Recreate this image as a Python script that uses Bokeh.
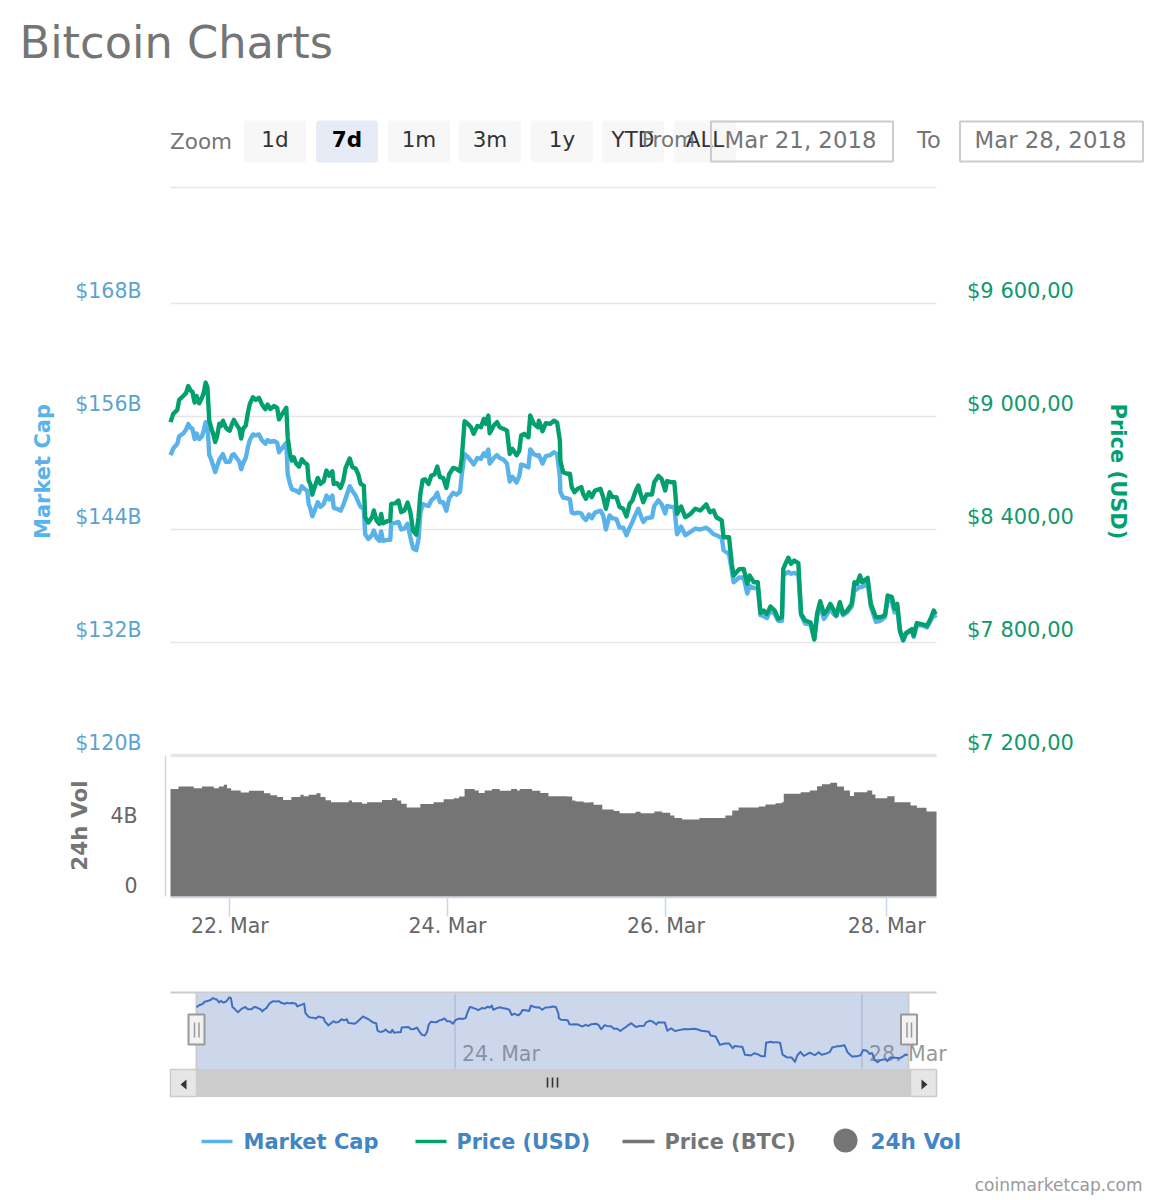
from datetime import datetime, timezone
from math import pi
from bokeh.core.properties import value
from bokeh.plotting import figure
from bokeh.models import Range1d, LinearAxis, FixedTicker
from bokeh.embed import file_html
from bokeh.resources import INLINE

# ---------- data ----------
hours = [0.0,0.6,1.5,1.9,2.8,3.4,3.9,4.4,4.8,5.3,5.7,6.3,6.9,7.3,7.7,8.1,8.5,8.9,9.4,9.8,10.2,10.7,11.1,11.5,12.1,12.6,13.0,13.5,13.9,14.5,15.1,15.5,15.9,16.5,17.0,17.4,18.1,18.7,19.4,20.0,20.8,21.3,21.9,22.7,23.4,23.8,24.4,25.4,25.7,26.2,26.6,27.0,27.6,28.2,28.8,29.4,30.0,30.3,30.7,31.1,31.6,32.3,32.9,33.6,34.2,34.8,35.5,35.8,36.5,37.3,37.9,38.4,39.3,39.9,40.6,41.2,41.7,42.4,42.7,43.4,44.2,44.6,45.2,45.8,46.2,46.6,47.5,48.2,48.4,49.3,50.0,50.6,51.3,52.0,52.6,53.2,53.9,54.4,54.8,55.3,55.8,56.6,57.2,57.9,58.5,59.1,59.8,60.5,61.1,62.0,62.7,63.5,63.9,64.5,65.2,65.9,66.5,67.3,68.1,68.7,69.2,69.7,70.0,70.9,71.6,72.2,73.1,73.8,74.4,75.0,75.9,76.5,76.9,77.6,78.5,78.9,79.7,80.6,80.8,81.6,82.3,83.3,84.1,84.8,85.4,
         85.5,86.1,87.0,87.6,88.0,88.6,89.3,90.1,90.5,91.1,91.8,92.4,93.1,94.3,94.9,95.5,96.3,96.9,97.8,98.5,99.3,100.0,100.7,101.3,101.9,102.6,103.2,103.7,104.4,105.6,106.1,107.0,107.7,108.5,108.9,109.8,110.5,111.1,112.0,112.9,113.9,115.1,116.2,117.5,118.3,119.1,119.7,120.9,121.3,122.5,123.1,123.5,124.7,125.7,126.5,127.0,127.9,128.8,129.4,130.1,130.8,131.6,132.5,133.3,134.1,134.4,134.8,135.5,136.1,136.8,137.7,138.3,139.2,140.4,141.2,141.8,142.5,143.3,144.0,144.7,145.5,146.0,146.8,147.5,148.4,149.4,150.0,150.6,151.2,151.7,152.9,153.6,154.7,155.7,156.7,157.3,158.2,158.8,159.4,160.0,160.7,161.3,162.6,163.0,163.7,164.9,165.9,166.7,167.4,167.8]
price_usd = [8970,9014,9035,9088,9109,9124,9162,9138,9131,9074,9109,9070,9099,9127,9180,9155,8978,8943,8904,8865,8893,8961,8950,8978,8943,8929,8925,8961,8982,8957,8934,8883,8934,8952,9023,9067,9102,9088,9099,9067,9039,9063,9040,9056,9046,8985,9010,9046,8890,8801,8766,8784,8748,8734,8773,8755,8745,8660,8639,8585,8624,8674,8642,8656,8713,8686,8709,8642,8646,8621,8660,8727,8777,8731,8724,8692,8642,8633,8465,8437,8465,8501,8447,8430,8483,8433,8444,8447,8536,8539,8554,8492,8501,8543,8492,8394,8373,8465,8589,8663,8667,8642,8686,8692,8734,8678,8674,8621,8692,8727,8722,8709,8784,8975,8961,8943,8908,8950,8943,8987,8961,9005,8911,8952,8970,8943,8934,8925,8801,8828,8794,8819,8899,8908,8890,9005,8961,8943,8978,8922,8964,8961,8978,8968,8872,
             8766,8704,8696,8696,8625,8598,8616,8625,8589,8563,8598,8572,8607,8616,8572,8510,8598,8572,8572,8519,8510,8469,8536,8554,8598,8634,8581,8545,8586,8586,8651,8685,8669,8607,8657,8651,8651,8483,8522,8465,8480,8510,8501,8533,8492,8501,8465,8448,8359,8359,8218,8156,8189,8191,8112,8156,8120,8120,7956,7970,7952,7991,7970,7926,7934,8191,8214,8250,8218,8235,8221,7952,7917,7906,7818,7952,8019,7952,7970,8005,7970,7943,8014,7952,7970,8005,8120,8112,8156,8120,8143,8005,7934,7934,7945,8050,8041,7979,8005,7864,7814,7850,7871,7837,7903,7896,7888,7926,7970,7949]
market_cap_b = [151.9,152.6,153.1,153.9,154.2,154.6,155.2,154.8,154.7,153.6,154.2,153.6,153.9,154.5,155.4,155.2,151.9,151.5,150.7,150.1,150.7,151.4,151.7,152.0,151.2,151.2,151.2,151.9,152.0,151.6,151.2,150.4,151.0,151.6,152.8,153.5,154.1,154.0,154.1,153.5,153.1,153.5,153.3,153.4,153.2,152.2,152.6,153.2,149.9,148.9,148.3,148.2,148.1,147.9,148.6,148.3,148.1,146.7,146.2,145.4,146.0,146.9,146.4,146.7,147.6,147.2,147.6,146.3,146.2,146.0,146.6,147.3,148.6,148.1,147.6,146.9,146.4,146.2,143.5,143.0,143.4,143.9,143.1,142.8,143.8,142.8,142.9,142.9,144.6,144.7,144.8,144.0,144.1,144.6,143.2,142.0,141.8,143.0,145.7,146.7,146.6,146.5,147.1,147.4,147.9,146.9,146.9,146.0,147.3,147.9,147.7,148.0,149.9,152.0,151.7,151.3,150.9,151.6,151.5,152.1,151.8,152.5,151.0,151.6,151.9,151.6,151.4,151.0,149.1,149.6,149.0,149.7,150.9,150.8,150.6,152.5,152.0,151.8,151.9,151.0,151.8,151.9,152.2,152.0,149.6,
                148.0,147.4,147.3,147.2,145.8,145.7,145.8,145.7,145.3,145.0,145.6,145.2,145.8,146.0,145.5,144.0,145.5,145.2,145.1,144.2,144.2,143.4,144.2,144.8,145.5,146.2,145.4,144.8,145.2,145.3,146.5,147.1,146.7,145.7,146.5,146.4,146.4,143.5,144.3,143.4,143.7,144.1,144.0,144.2,143.9,143.5,143.4,143.1,141.8,141.4,139.6,138.4,138.9,138.9,137.2,138.0,137.8,137.7,134.9,134.8,134.6,135.4,135.0,134.3,134.3,139.3,139.3,139.5,139.3,139.4,139.2,134.9,134.0,133.9,132.3,134.7,135.9,134.5,135.0,135.6,135.0,134.8,135.8,134.9,135.2,135.8,137.5,137.7,137.9,137.9,138.3,135.8,134.2,134.3,134.7,136.6,136.3,135.2,135.5,133.1,132.2,132.9,133.3,132.6,133.9,133.8,133.6,134.3,135.0,134.6]
vol_hours = [0.0,1.75,5.1,6.9,9.5,10.6,11.7,12.4,13.3,15.4,17.2,20.5,21.9,23.4,24.7,26.5,28.5,29.2,30.3,32.0,32.9,34.0,35.2,39.1,39.8,42.0,43.1,46.4,48.6,49.7,50.6,51.8,54.8,57.7,59.9,62.1,63.3,64.5,66.7,67.6,68.9,70.5,72.2,74.7,76.0,76.6,79.3,81.1,82.9,87.0,88.1,88.8,90.6,92.0,92.8,94.7,97.2,98.5,102.0,103.1,106.1,107.8,109.6,110.5,112.2,116.0,121.7,123.2,124.6,129.0,130.5,132.7,134.1,134.5,138.2,140.2,141.8,142.9,144.7,146.2,147.7,149.0,149.9,152.8,153.9,154.6,157.2,158.8,160.8,162.3,163.7,165.8,168.0]
vol_b = [6.15,6.29,6.19,6.29,6.19,6.29,6.38,6.19,6.06,5.94,6.04,5.90,5.79,5.68,5.52,5.68,5.81,5.73,5.81,5.90,5.68,5.50,5.39,5.49,5.39,5.30,5.39,5.52,5.62,5.49,5.30,5.09,5.28,5.39,5.56,5.62,5.71,6.15,6.06,5.92,6.06,6.15,6.04,6.15,6.06,6.15,6.04,5.92,5.73,5.71,5.49,5.43,5.37,5.39,5.24,4.97,4.89,4.76,4.84,4.76,4.86,4.78,4.63,4.49,4.40,4.49,4.63,4.91,5.09,5.14,5.26,5.33,5.39,5.87,5.96,6.06,6.30,6.42,6.50,6.29,6.06,5.75,5.96,6.06,5.83,5.62,5.73,5.39,5.39,5.20,5.07,4.86,4.86]

cap_ticks = [120, 132, 144, 156, 168]
cap_labels = ["$120B", "$132B", "$144B", "$156B", "$168B"]
price_ticks = [7200, 7800, 8400, 9000, 9600]
price_labels = ["$7 200,00", "$7 800,00", "$8 400,00", "$9 000,00", "$9 600,00"]
vol_ticks = [0, 4]
vol_labels = ["0", "4B"]
date_ticks = ["2018-03-22T00:00", "2018-03-23T23:45", "2018-03-25T23:40", "2018-03-28T00:05"]
date_labels = ["22. Mar", "24. Mar", "26. Mar", "28. Mar"]
nav_ticks = ["2018-03-24T00:00", "2018-03-28T00:00"]
nav_labels = ["24. Mar", "28. Mar"]
zoom_buttons = ["1d", "7d", "1m", "3m", "1y", "YTD", "ALL"]

# ---------- helpers ----------
W, H = 1153, 1198
PX0, PX1 = 0, W        # picture pixels covered by the frame, horizontally
PY0, PY1 = 0, H        # and vertically

def ms(t):
    return datetime.fromisoformat(t).replace(tzinfo=timezone.utc).timestamp() * 1000

START = ms("2018-03-21T11:00")
times = [START + h * 3600000 for h in hours]
vtimes = [START + h * 3600000 for h in vol_hours]
END = START + 168 * 3600000

def anchored(v1, p1, v2, p2, lo, hi, shift=0.0):
    """Range whose values v1, v2 land on pixels p1, p2 of a frame spanning lo..hi."""
    k = (v2 - v1) / (p2 - p1)
    return (v1 + (lo - shift - p1) * k, v1 + (hi - shift - p1) * k)

def yr(v1, p1, v2, p2, shift=0.0):
    a, b = anchored(v1, p1, v2, p2, PY0, PY1, shift)
    return Range1d(start=b, end=a)

def xr(v1, p1, v2, p2):
    a, b = anchored(v1, p1, v2, p2, PX0, PX1)
    return Range1d(start=a, end=b)

p = figure(width=W, height=H, output_backend="svg", toolbar_location=None,
           x_range=Range1d(PX0, PX1), y_range=Range1d(PY1, PY0),
           x_axis_type=None, y_axis_type=None, min_border=0, outline_line_color=None,
           background_fill_color="white", border_fill_color="white")
p.grid.visible = False

p.extra_x_ranges = {"time": xr(START, 170, END, 936), "nav": xr(START, 196, END, 908)}
p.extra_y_ranges = {
    "price": yr(7200, 755, 9600, 303), "price_lbl": yr(7200, 755, 9600, 303, -12.5),
    "cap": yr(120, 755, 168, 303), "cap_lbl": yr(120, 755, 168, 303, -12.5),
    "vol": yr(0, 896, 4, 826), "vol_lbl": yr(0, 896, 4, 826, -11),
    "nav_cap": yr(155.4, 997, 132.2, 1061.7),
}

FONT = "DejaVu Sans"
GREY = "#757575"
BLUE = "#5ab2ea"
GREEN = "#03a06f"
LINK = "#4285c4"

def txt(x, y, s, size, color, align="left", bold=False, angle=0.0, alpha=1.0):
    p.text(x=[x], y=[y], text=[s], text_font=value(FONT), text_font_size=f"{size}px", text_color=color,
           text_align=align, text_baseline="middle", text_alpha=alpha,
           text_font_style="bold" if bold else "normal", angle=angle)

def box(l, r, t, b, fill, line=None, lw=1, alpha=1.0, radius=0):
    p.quad(left=[l], right=[r], top=[t], bottom=[b], fill_color=fill, fill_alpha=alpha,
           line_color=line, line_width=lw, border_radius=radius)

# ---------- header ----------
txt(19, 42, "Bitcoin Charts", 44.7, GREY)
txt(169.5, 141, "Zoom", 21.5, GREY)
btn_left = [243.5, 315.5, 387.5, 458.5, 530.5, 601.5, 673.5]
for i, (b, l) in enumerate(zip(zoom_buttons, btn_left)):
    sel = b == "7d"
    box(l, l + 62, 120, 162, "#e6ebf5" if sel else "#f7f7f7", radius=3)
    txt(l + 31, 139, b, 21.5, "#000000" if sel else "#333333", "center", bold=sel)
txt(694.5, 139, "From", 21.5, GREY, "right")
p.quad(left=[710.5], right=[892.5], top=[121], bottom=[161], fill_alpha=0, line_color="#cccccc", line_width=2)
txt(800, 139, "Mar 21, 2018", 22.8, GREY, "center")
txt(916.5, 139, "To", 22.5, GREY)
p.quad(left=[959.5], right=[1142.5], top=[121], bottom=[161], fill_alpha=0, line_color="#cccccc", line_width=2)
txt(1050, 139, "Mar 28, 2018", 22.8, GREY, "center")

# ---------- main panes ----------
p.segment(x0=[170], x1=[936], y0=[187], y1=[187], line_color="#e6e6e6", line_width=1.5)
p.segment(x0=[170] * len(price_ticks[1:]), x1=[936] * len(price_ticks[1:]), y0=price_ticks[1:], y1=price_ticks[1:],
          y_range_name="price", line_color="#e6e6e6", line_width=1.5)
p.segment(x0=[170], x1=[936], y0=[price_ticks[0]], y1=[price_ticks[0]], y_range_name="price",
          line_color="#e6e6e6", line_width=3.5)
p.segment(x0=[165], x1=[165], y0=[755], y1=[896], line_color="#ccd6eb", line_width=1.5)

p.varea_step(x=vtimes, y1=[0] * len(vol_b), y2=vol_b, step_mode="after", x_range_name="time",
             y_range_name="vol", fill_color=GREY)
p.line(times, market_cap_b, x_range_name="time", y_range_name="cap", line_color=BLUE, line_width=4.4, line_join="round")
p.line(times, price_usd, x_range_name="time", y_range_name="price", line_color=GREEN, line_width=4.4, line_join="round")

def y_axis(side, rng, ticks, labels, loc, color, size):
    ax = LinearAxis(y_range_name=rng, ticker=FixedTicker(ticks=ticks),
                    major_label_overrides=dict(zip(ticks, labels)), fixed_location=loc,
                    axis_line_color=None, major_tick_line_color=None, minor_tick_line_color=None,
                    major_tick_in=0, major_tick_out=0, major_label_standoff=0,
                    major_label_text_font=FONT, major_label_text_font_size=size,
                    major_label_text_color=color)
    p.add_layout(ax, side)

y_axis("left", "cap_lbl", cap_ticks, cap_labels, 141, "#5ba4d0", "20.5px")
y_axis("right", "price_lbl", price_ticks, price_labels, 966.5, "#0f9a6b", "21px")
y_axis("left", "vol_lbl", vol_ticks, vol_labels, 137, "#666666", "20.5px")

date_ms = [ms(d) for d in date_ticks]
xax = LinearAxis(x_range_name="time", ticker=FixedTicker(ticks=date_ms),
                 major_label_overrides=dict(zip(date_ms, date_labels)), fixed_location=896.5,
                 bounds=(START, END), axis_line_color="#ccd6eb", axis_line_width=1.5,
                 major_tick_line_color="#ccd6eb", major_tick_line_width=1.5,
                 major_tick_in=0, major_tick_out=19, minor_tick_line_color=None,
                 major_label_standoff=-2, major_label_text_font=FONT,
                 major_label_text_font_size="20.5px", major_label_text_color="#666666")
p.add_layout(xax, "below")

txt(42, 471, "Market Cap", 21, BLUE, "center", True, pi / 2)
txt(1117, 471, "Price (USD)", 21, GREEN, "center", True, -pi / 2)
txt(79, 825, "24h Vol", 21.5, GREY, "center", True, pi / 2)

# ---------- navigator ----------
nav_ms = [ms(d) for d in nav_ticks]
p.segment(x0=nav_ms, x1=nav_ms, y0=[993] * 2, y1=[1068] * 2, x_range_name="nav",
          line_color="#e0e0e6", line_width=2)
p.text(x=nav_ms, y=[1053] * 2, text=nav_labels, x_range_name="nav", x_offset=7, text_font=value(FONT),
       text_font_size="20.5px", text_color="#999999", text_baseline="middle", text_align="left")
p.segment(x0=[170], x1=[936], y0=[992], y1=[992], line_color="#cccccc", line_width=2)
p.quad(left=[START], right=[END], top=[993], bottom=[1069], x_range_name="nav",
       fill_color="#6685c2", fill_alpha=0.33, line_color=None)
p.segment(x0=[START, END], x1=[START, END], y0=[992] * 2, y1=[1069] * 2, x_range_name="nav",
          line_color="#cccccc", line_width=2)
p.line(times, market_cap_b, x_range_name="nav", y_range_name="nav_cap", line_color="#3f6fc0",
       line_width=2, line_join="round")

# scrollbar
box(196, 910, 1069, 1096, "#cccccc", "#cccccc")
box(170, 196, 1069, 1096, "#e6e6e6", "#cccccc", 1.5)
box(910, 936, 1069, 1096, "#e6e6e6", "#cccccc", 1.5)
p.patches(xs=[[180, 186, 186], [927, 921, 921]], ys=[[1084, 1079, 1089], [1084, 1079, 1089]],
          fill_color="#333333", line_color=None)
p.segment(x0=[547, 552, 557], x1=[547, 552, 557], y0=[1077] * 3, y1=[1087] * 3, line_color="#333333", line_width=1.6)
# handles
for l in (188, 900.5):
    box(l, l + 16, 1014, 1044, "#f2f2f2", "#999999", 2)
    p.segment(x0=[l + 6, l + 10.5], x1=[l + 6, l + 10.5], y0=[1022] * 2, y1=[1037] * 2,
              line_color="#999999", line_width=1.5)

# ---------- legend ----------
p.segment(x0=[201], x1=[232], y0=[1141], y1=[1141], line_color=BLUE, line_width=3.5)
txt(243, 1141, "Market Cap", 21, LINK, bold=True)
p.segment(x0=[415], x1=[446], y0=[1141], y1=[1141], line_color=GREEN, line_width=3.5)
txt(456, 1141, "Price (USD)", 20.7, LINK, bold=True)
p.segment(x0=[622], x1=[654], y0=[1141], y1=[1141], line_color=GREY, line_width=3.5)
txt(664, 1141, "Price (BTC)", 20.9, GREY, bold=True)
p.scatter(x=[845], y=[1140], size=24, marker="circle", fill_color=GREY, line_color=None)
txt(870, 1141, "24h Vol", 21.6, LINK, bold=True)
txt(1142, 1184, "coinmarketcap.com", 17, "#999999", "right")

open("out.html", "w").write(file_html(p, INLINE))
